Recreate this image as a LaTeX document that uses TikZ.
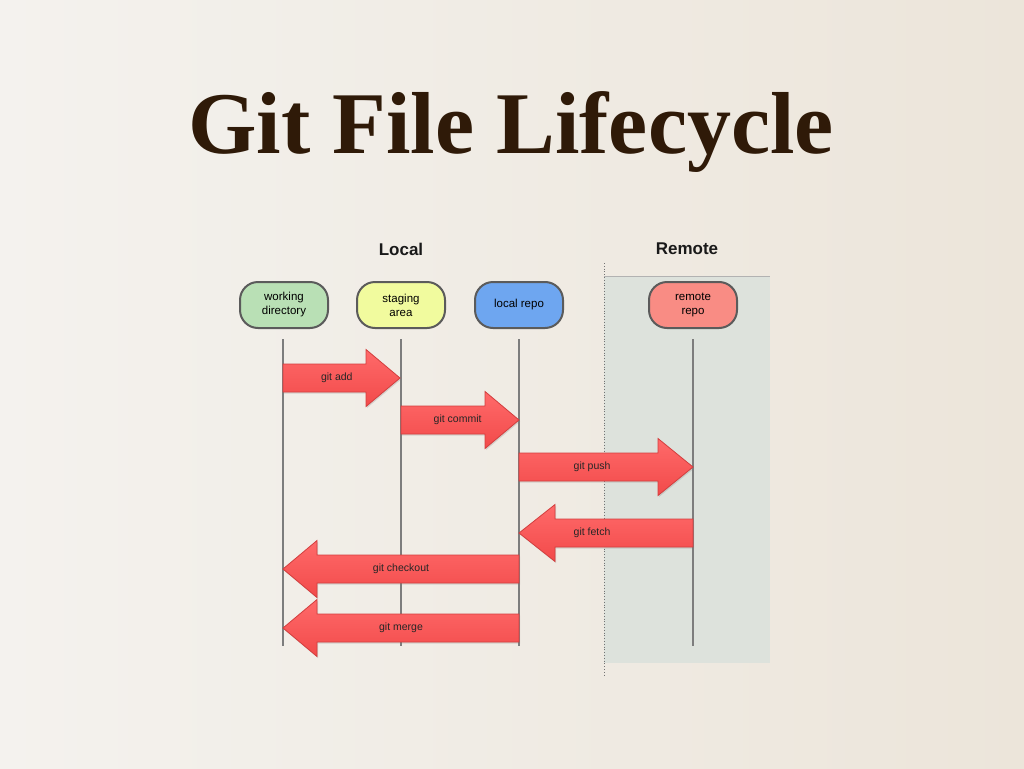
\documentclass[tikz,border=0pt]{standalone}
\usepackage{fontspec}
\setmainfont{Liberation Serif}
\setsansfont{Liberation Sans}
\usetikzlibrary{calc,shadows}
\definecolor{bgl}{HTML}{F4F2EE}
\definecolor{bgr}{HTML}{ECE5DA}
\definecolor{titlec}{HTML}{2F1A08}
\definecolor{wdc}{HTML}{B9E0B5}
\definecolor{sac}{HTML}{F1FB9E}
\definecolor{lrc}{HTML}{6EA6F0}
\definecolor{rrc}{HTML}{F98C84}
\definecolor{edgec}{HTML}{5B5B5B}
\definecolor{lifec}{HTML}{7D7D7D}
\definecolor{panelc}{HTML}{DDE2DC}
\definecolor{arrtop}{HTML}{FF6A6A}
\definecolor{arrbot}{HTML}{F24A4A}
\definecolor{arredge}{HTML}{D23E3E}
\tikzset{
  stage/.style={draw=edgec, line width=2pt, rounded corners=18pt, minimum width=88pt,
    minimum height=46pt, align=center, font=\sffamily\fontsize{11.5}{14}\selectfont,
    inner sep=2pt},
  lifeline/.style={draw=lifec, line width=2pt},
  fatarrow/.style={draw=arredge, line width=0.8pt, top color=arrtop, bottom color=arrbot,
    drop shadow={opacity=0.25, shadow xshift=1pt, shadow yshift=-1.5pt}},
  arrowlabel/.style={font=\sffamily\fontsize{10.5}{12}\selectfont, text=black!85},
  sidelabel/.style={font=\sffamily\bfseries\fontsize{17}{20}\selectfont, text=black!90},
}
\newcommand\fatarr[5]{%
  \draw[fatarrow] ($(#1)+(0,-14)$) -- ($(#2)+(#3,-14)$) -- ($(#2)+(#3,-28.5)$) -- (#2)
    -- ($(#2)+(#3,28.5)$) -- ($(#2)+(#3,14)$) -- ($(#1)+(0,14)$) -- cycle;
  \path (#1) -- (#2) node[pos=#4, arrowlabel] {#5};
}
\begin{document}
\begin{tikzpicture}[x=1pt, y=-1pt]
  \useasboundingbox (0,0) rectangle (1024,768);
  \shade[left color=bgl, right color=bgr] (0,0) rectangle (1024,768);

  % title
  \node[font=\bfseries\fontsize{88}{96}\selectfont, text=titlec, anchor=base] (title) at (511,153) {Git File Lifecycle};

  % remote panel
  \fill[panelc] (604,276) rectangle (770,663);
  \draw[black!30, line width=1pt] (604,276) -- (770,276);
  \draw[black!55, line width=0.8pt, dotted] (604,263) -- (604,676);

  \node[sidelabel] (local) at (401,249) {Local};
  \node[sidelabel] (remote) at (687,249) {Remote};

  % stages
  \node[stage, fill=wdc] (wd) at (284,305) {working\\directory};
  \node[stage, fill=sac] (sa) at (401,305) {staging\\area};
  \node[stage, fill=lrc] (lr) at (519,305) {local repo};
  \node[stage, fill=rrc] (rr) at (693,305) {remote\\repo};

  % lifelines
  \foreach \n/\x in {wd/283, sa/401, lr/519, rr/693}{
    \coordinate (\n-top) at (\x,339);
    \coordinate (\n-bot) at (\x,646);
    \draw[lifeline] (\n-top) -- (\n-bot);
  }

  % arrow anchors
  \coordinate (add-s) at (283,378);   \coordinate (add-e) at (400,378);
  \coordinate (com-s) at (401,420);   \coordinate (com-e) at (519,420);
  \coordinate (push-s) at (519,467);  \coordinate (push-e) at (693,467);
  \coordinate (fet-s) at (693,533);   \coordinate (fet-e) at (519,533);
  \coordinate (chk-s) at (519,569);   \coordinate (chk-e) at (283,569);
  \coordinate (mrg-s) at (519,628);   \coordinate (mrg-e) at (283,628);

  \fatarr{add-s}{add-e}{-34}{0.46}{git add}
  \fatarr{com-s}{com-e}{-34}{0.48}{git commit}
  \fatarr{push-s}{push-e}{-35}{0.42}{git push}
  \fatarr{fet-s}{fet-e}{36}{0.58}{git fetch}
  \fatarr{chk-s}{chk-e}{34}{0.5}{git checkout}
  \fatarr{mrg-s}{mrg-e}{34}{0.5}{git merge}
\end{tikzpicture}
\end{document}
